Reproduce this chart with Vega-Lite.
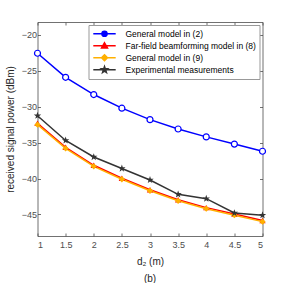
{
  "$schema": "https://vega.github.io/schema/vega-lite/v6.json",
  "width": 225,
  "height": 214,
  "autosize": "none",
  "padding": {"left": 37.5, "top": 22, "right": 27.5, "bottom": 47},
  "background": "white",
  "config": {
    "font": "Liberation Sans",
    "view": {"stroke": null},
    "axis": {"grid": false, "domainColor": "#4d4d4d", "tickColor": "#4d4d4d", "labelColor": "#4d4d4d", "labelFont": "Liberation Sans", "labelFontSize": 9, "titleFont": "Liberation Sans", "titleFontWeight": "normal", "titleColor": "#262626", "titleFontSize": 10, "tickSize": -3, "domainWidth": 0.8, "tickWidth": 0.8}
  },
  "title": {"text": "(b)", "orient": "bottom", "fontSize": 10, "fontWeight": "normal", "color": "#262626", "offset": 8, "font": "Liberation Sans"},
  "data": {"values": [
    {"d": 1, "p": -22.55, "s": "General model in (2)"},
    {"d": 1.5, "p": -25.9, "s": "General model in (2)"},
    {"d": 2, "p": -28.3, "s": "General model in (2)"},
    {"d": 2.5, "p": -30.2, "s": "General model in (2)"},
    {"d": 3, "p": -31.8, "s": "General model in (2)"},
    {"d": 3.5, "p": -33.1, "s": "General model in (2)"},
    {"d": 4, "p": -34.2, "s": "General model in (2)"},
    {"d": 4.5, "p": -35.2, "s": "General model in (2)"},
    {"d": 5, "p": -36.2, "s": "General model in (2)"},
    {"d": 1, "p": -32.3, "s": "Far-field beamforming model in (8)"},
    {"d": 1.5, "p": -35.65, "s": "Far-field beamforming model in (8)"},
    {"d": 2, "p": -38.15, "s": "Far-field beamforming model in (8)"},
    {"d": 2.5, "p": -39.95, "s": "Far-field beamforming model in (8)"},
    {"d": 3, "p": -41.55, "s": "Far-field beamforming model in (8)"},
    {"d": 3.5, "p": -42.95, "s": "Far-field beamforming model in (8)"},
    {"d": 4, "p": -44.05, "s": "Far-field beamforming model in (8)"},
    {"d": 4.5, "p": -44.95, "s": "Far-field beamforming model in (8)"},
    {"d": 5, "p": -45.85, "s": "Far-field beamforming model in (8)"},
    {"d": 1, "p": -32.5, "s": "General model in (9)"},
    {"d": 1.5, "p": -35.8, "s": "General model in (9)"},
    {"d": 2, "p": -38.3, "s": "General model in (9)"},
    {"d": 2.5, "p": -40.1, "s": "General model in (9)"},
    {"d": 3, "p": -41.7, "s": "General model in (9)"},
    {"d": 3.5, "p": -43.1, "s": "General model in (9)"},
    {"d": 4, "p": -44.2, "s": "General model in (9)"},
    {"d": 4.5, "p": -45.1, "s": "General model in (9)"},
    {"d": 5, "p": -46.0, "s": "General model in (9)"},
    {"d": 1, "p": -31.25, "s": "Experimental measurements"},
    {"d": 1.5, "p": -34.7, "s": "Experimental measurements"},
    {"d": 2, "p": -37.0, "s": "Experimental measurements"},
    {"d": 2.5, "p": -38.6, "s": "Experimental measurements"},
    {"d": 3, "p": -40.2, "s": "Experimental measurements"},
    {"d": 3.5, "p": -42.2, "s": "Experimental measurements"},
    {"d": 4, "p": -42.8, "s": "Experimental measurements"},
    {"d": 4.5, "p": -44.8, "s": "Experimental measurements"},
    {"d": 5, "p": -45.1, "s": "Experimental measurements"}
  ]},
  "resolve": {"axis": {"x": "independent", "y": "independent"}},
  "layer": [
    {
      "mark": {"type": "line", "strokeWidth": 1.5},
      "encoding": {
        "x": {"field": "d", "type": "quantitative", "scale": {"domain": [1, 5], "nice": false}, "axis": {"values": [1, 1.5, 2, 2.5, 3, 3.5, 4, 4.5, 5], "format": "~g", "title": "d₂ (m)", "titlePadding": 7, "labelPadding": 7}},
        "y": {"field": "p", "type": "quantitative", "scale": {"domain": [-48, -18.2], "nice": false, "zero": false}, "axis": {"values": [-45, -40, -35, -30, -25, -20], "title": "received signal power (dBm)", "labelPadding": 4, "titlePadding": 6}},
        "stroke": {"field": "s", "type": "nominal", "scale": {"domain": ["General model in (2)", "Far-field beamforming model in (8)", "General model in (9)", "Experimental measurements"], "range": ["#0000ff", "#ff0000", "#ffb000", "#333333"]}, "legend": {
          "orient": "top-right", "offset": 3, "title": null, "labelFontSize": 8.5, "labelColor": "#000000", "labelFont": "Liberation Sans",
          "fillColor": "white", "strokeColor": "#999999", "padding": 3, "rowPadding": 0, "clipHeight": 11.5, "symbolOffset": 8, "labelOffset": 16,
          "symbolSize": 64, "symbolStrokeWidth": 1.5, "symbolType": "circle",
          "encode": {"symbols": {"update": {
            "shape": {"signal": "datum.value === 'General model in (2)' ? 'M-2.8,0H2.8M0.65,0A0.65,0.65 0 1,1 -0.65,0A0.65,0.65 0 1,1 0.65,0Z' : datum.value === 'Far-field beamforming model in (8)' ? 'M-2.8,0H2.8M0,-0.75L0.75,0.56L-0.75,0.56Z' : datum.value === 'General model in (9)' ? 'M-2.8,0H2.8M0,-0.75L0.75,0L0,0.75L-0.75,0Z' : 'M-2.8,0H2.8M0,-0.8L0.19,-0.26L0.76,-0.25L0.31,0.1L0.47,0.65L0,0.32L-0.47,0.65L-0.31,0.1L-0.76,-0.25L-0.19,-0.26Z'"},
            "fill": {"signal": "datum.value === 'General model in (2)' ? '#0000ff' : datum.value === 'Far-field beamforming model in (8)' ? '#ff0000' : datum.value === 'General model in (9)' ? '#ffb000' : '#333333'"},
            "fillOpacity": {"value": 1},
            "strokeWidth": {"value": 1.5}
          }}}
        }},
        "order": {"field": "d"}
      }
    },
    {
      "transform": [{"filter": "datum.s === 'General model in (2)'"}],
      "mark": {"type": "point", "shape": "circle", "filled": false, "fill": "white", "fillOpacity": 1, "strokeWidth": 1.2, "opacity": 1, "size": 36},
      "encoding": {
        "x": {"field": "d", "type": "quantitative", "axis": {"orient": "top", "values": [1, 1.5, 2, 2.5, 3, 3.5, 4, 4.5, 5], "labels": false, "title": null}},
        "y": {"field": "p", "type": "quantitative", "axis": {"orient": "right", "values": [-45, -40, -35, -30, -25, -20], "labels": false, "title": null}},
        "stroke": {"field": "s", "type": "nominal", "legend": null}
      }
    },
    {
      "transform": [{"filter": "datum.s === 'Far-field beamforming model in (8)'"}],
      "mark": {"type": "point", "shape": "triangle-up", "filled": true, "opacity": 1, "size": 40},
      "encoding": {
        "x": {"field": "d", "type": "quantitative", "axis": null},
        "y": {"field": "p", "type": "quantitative", "axis": null},
        "color": {"value": "#ff0000"}
      }
    },
    {
      "transform": [{"filter": "datum.s === 'General model in (9)'"}],
      "mark": {"type": "point", "shape": "diamond", "filled": true, "opacity": 1, "size": 40},
      "encoding": {
        "x": {"field": "d", "type": "quantitative", "axis": null},
        "y": {"field": "p", "type": "quantitative", "axis": null},
        "color": {"value": "#ffb000"}
      }
    },
    {
      "transform": [{"filter": "datum.s === 'Experimental measurements'"}],
      "mark": {"type": "point", "shape": "M0,-1L0.235,-0.324L0.951,-0.309L0.38,0.124L0.588,0.809L0,0.4L-0.588,0.809L-0.38,0.124L-0.951,-0.309L-0.235,-0.324Z", "filled": true, "opacity": 1, "size": 60},
      "encoding": {
        "x": {"field": "d", "type": "quantitative", "axis": null},
        "y": {"field": "p", "type": "quantitative", "axis": null},
        "color": {"value": "#333333"}
      }
    }
  ]
}
